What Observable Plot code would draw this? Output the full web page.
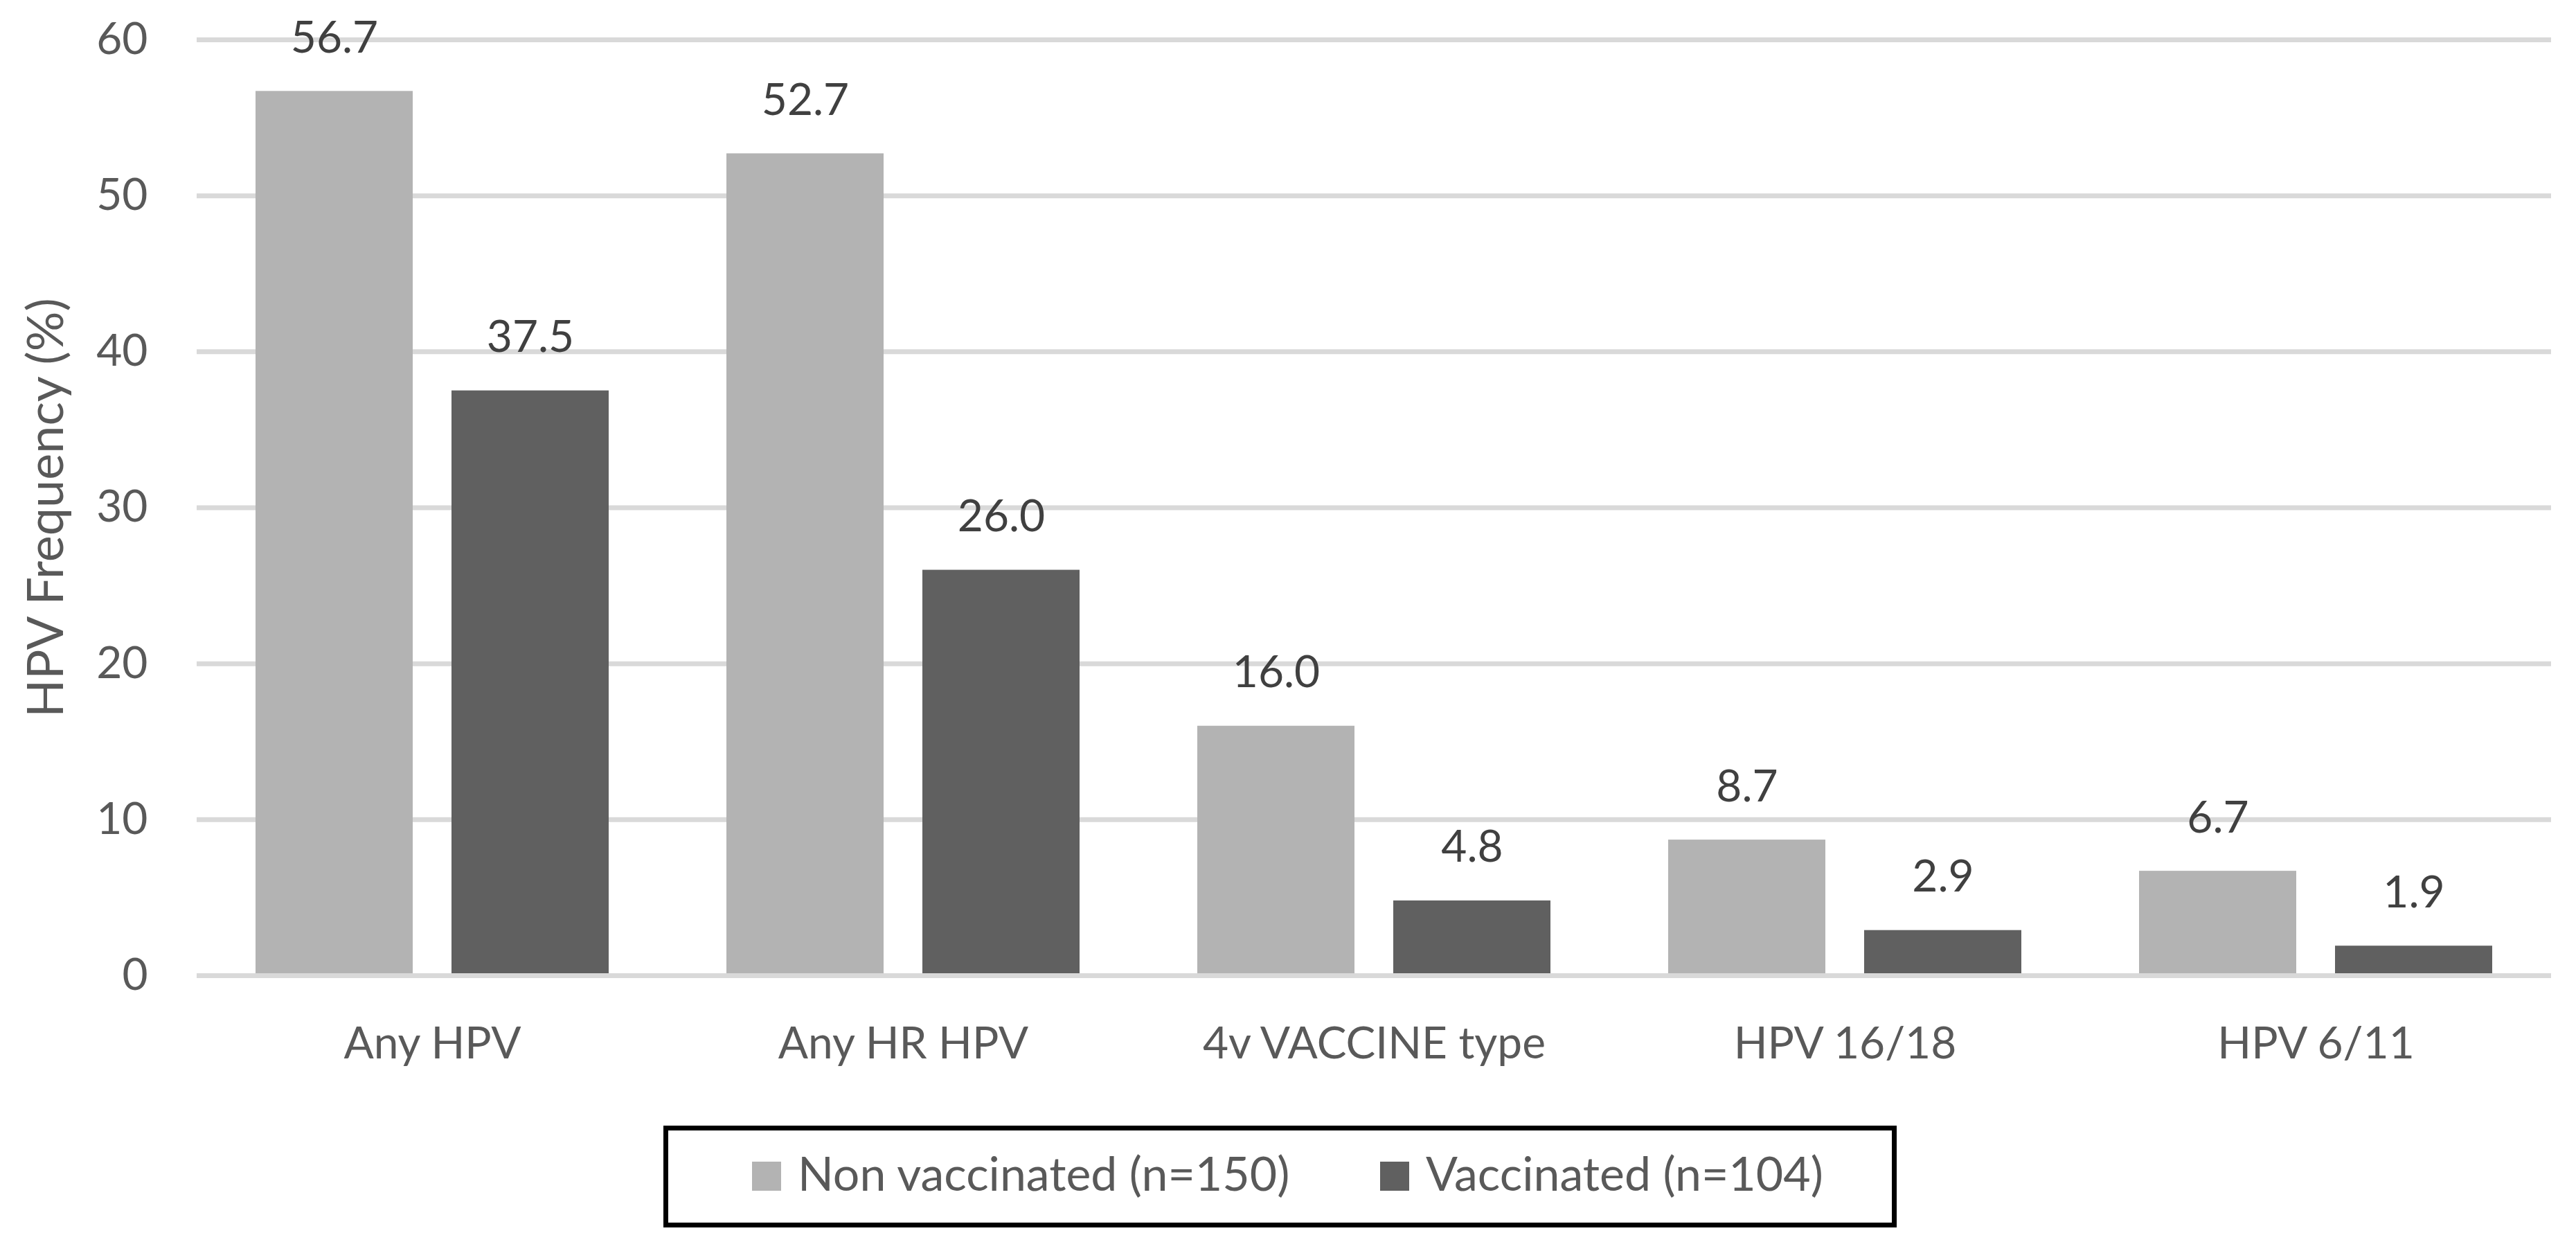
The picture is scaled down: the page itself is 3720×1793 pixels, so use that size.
<!DOCTYPE html>
<html><head><meta charset="utf-8">
<script src="https://cdn.jsdelivr.net/npm/d3@7"></script>
<script src="https://cdn.jsdelivr.net/npm/@observablehq/plot@0.6"></script>
<style>
html,body{margin:0;padding:0;background:#fff;}
#wrap{position:relative;width:3720px;height:1793px;font-family:Lato, sans-serif;overflow:hidden;}
#wrap svg.plot{position:absolute;left:0;top:0;}
#legend{position:absolute;left:958px;top:1625px;width:1781px;height:147px;box-sizing:border-box;border:7px solid #000;background:#fff;}
.item{position:absolute;top:0;height:133px;}
.sw{position:absolute;width:42px;height:42px;top:45px;}
.lt{position:absolute;top:0;left:66px;white-space:nowrap;font-size:68px;line-height:68px;color:#595959;}
</style></head><body><div id="wrap"></div>
<script>
const categories = ["Any HPV", "Any HR HPV", "4v VACCINE type", "HPV 16/18", "HPV 6/11"];
const series = ["Non vaccinated (n=150)", "Vaccinated (n=104)"];
const nonVaccinated = [56.7, 52.7, 16.0, 8.7, 6.7];
const vaccinated = [37.5, 26.0, 4.8, 2.9, 1.9];
const yTicks = [0, 10, 20, 30, 40, 50, 60];
const colors = ["#b3b3b3", "#606060"];
const yTitle = "HPV Frequency (%)";

const values = [nonVaccinated, vaccinated];
const data = categories.flatMap((c, i) => series.map((s, j) => ({category: c, series: s, value: values[j][i]})));

const W = 3720, H = 1600;
const chart = Plot.plot({
  width: W, height: H,
  marginTop: 57, marginBottom: 192, marginLeft: 283, marginRight: 35,
  style: {fontFamily: "Lato, sans-serif", fontSize: "64px", color: "#595959", background: "#fff", overflow: "visible"},
  fx: {domain: categories, padding: 0, label: null, axis: "bottom", tickSize: 0, tickPadding: 74},
  x: {domain: series, paddingInner: 0.197, paddingOuter: 0.296, axis: null},
  y: {domain: [0, 60], ticks: yTicks, tickSize: 0, tickPadding: 71, label: null, tickFormat: d => String(d)},
  color: {domain: series, range: colors},
  marks: [
    Plot.gridY(yTicks, {stroke: "#d9d9d9", strokeOpacity: 1, strokeWidth: 7}),
    Plot.barY(data, {fx: "category", x: "series", y: "value", fill: "series"}),
    Plot.ruleY([0], {stroke: "#d9d9d9", strokeWidth: 7}),
    Plot.text(data, {fx: "category", x: "series", y: "value", text: d => d.value.toFixed(1),
      lineAnchor: "bottom", dy: -56, fill: "#404040", fontSize: 64})
  ]
});
chart.classList.add("plot");
const wrap = document.getElementById("wrap");
wrap.appendChild(chart);

// y-axis title
const ns = "http://www.w3.org/2000/svg";
const tsvg = document.createElementNS(ns, "svg");
tsvg.setAttribute("width", 200); tsvg.setAttribute("height", H);
tsvg.style.position = "absolute"; tsvg.style.left = "0"; tsvg.style.top = "0";
const tt = document.createElementNS(ns, "text");
tt.setAttribute("transform", "translate(91,733) rotate(-90)");
tt.setAttribute("text-anchor", "middle");
tt.setAttribute("font-family", "Lato, sans-serif");
tt.setAttribute("font-size", "72");
tt.setAttribute("fill", "#595959");
tt.textContent = yTitle;
tsvg.appendChild(tt);
wrap.appendChild(tsvg);

// legend
const legend = document.createElement("div");
legend.id = "legend";
const itemLeft = [121, 1028];
series.forEach((s, i) => {
  const it = document.createElement("div");
  it.className = "item";
  it.style.left = itemLeft[i] + "px";
  const sw = document.createElement("div");
  sw.className = "sw"; sw.style.background = colors[i];
  const lt = document.createElement("div");
  lt.className = "lt"; lt.textContent = s;
  lt.style.top = "27px";
  it.appendChild(sw); it.appendChild(lt);
  legend.appendChild(it);
});
wrap.appendChild(legend);
</script></body></html>
